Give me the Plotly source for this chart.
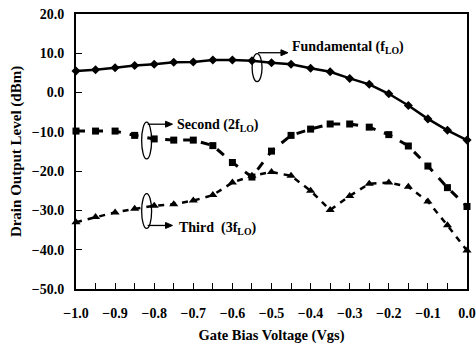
import plotly.graph_objects as go

vgs = [-1.0, -0.95, -0.9, -0.85, -0.8, -0.75, -0.7, -0.65, -0.6, -0.55, -0.5,
       -0.45, -0.4, -0.35, -0.3, -0.25, -0.2, -0.15, -0.1, -0.05, 0.0]
fundamental = [5.5, 5.8, 6.3, 6.9, 7.2, 7.7, 7.8, 8.3, 8.3, 8.1, 7.6,
               7.2, 6.2, 5.3, 3.6, 2.1, -0.3, -3.3, -6.7, -9.6, -12.1]
second = [-9.8, -9.8, -9.8, -10.9, -11.8, -12.1, -12.1, -13.5, -17.8, -21.5, -14.9,
          -10.9, -9.3, -8.0, -8.0, -8.8, -10.7, -13.6, -18.7, -24.2, -29.0]
third = [-33.0, -31.7, -30.5, -29.6, -28.8, -28.4, -27.5, -26.1, -22.9, -21.2, -20.2,
         -21.2, -25.0, -29.9, -26.3, -23.2, -22.9, -24.0, -27.7, -33.8, -40.2]

FONT = "Liberation Serif"

fig = go.Figure()
fig.add_trace(go.Scatter(x=vgs, y=fundamental, mode="lines+markers", name="Fundamental",
                         line=dict(color="black", width=2.5),
                         marker=dict(symbol="diamond", size=7, color="black"), cliponaxis=False))
fig.add_trace(go.Scatter(x=vgs, y=second, mode="lines+markers", name="Second",
                         line=dict(color="black", width=3, dash="dash"),
                         marker=dict(symbol="square", size=7, color="black"), cliponaxis=False))
fig.add_trace(go.Scatter(x=vgs, y=third, mode="lines+markers", name="Third",
                         line=dict(color="black", width=2.5, dash="6px,6px"),
                         marker=dict(symbol="triangle-up", size=8, color="black"), cliponaxis=False))

# pixel -> data helpers for annotation shapes
def px2x(px):
    return -1.0 + (px - 76) / 393.0

def py2y(py):
    return 20.0 - (py - 12) * 70.0 / 277.0

ellipses = [(253, 52, 263, 80), (142, 121, 152, 158), (142, 193, 152, 228)]
for x0, y0, x1, y1 in ellipses:
    fig.add_shape(type="circle", xref="x", yref="y",
                  x0=px2x(x0), x1=px2x(x1), y0=py2y(y0), y1=py2y(y1),
                  line=dict(color="black", width=1.3))

arrows = [(259, 289, 51), (148, 173, 123), (148, 173, 225)]
for xs, xe, yy in arrows:
    fig.add_shape(type="line", xref="x", yref="y",
                  x0=px2x(xs), x1=px2x(xe - 4), y0=py2y(yy), y1=py2y(yy),
                  line=dict(color="black", width=1.3))
    path = "M {} {} L {} {} L {} {} Z".format(
        px2x(xe), py2y(yy), px2x(xe - 7), py2y(yy - 3), px2x(xe - 7), py2y(yy + 3))
    fig.add_shape(type="path", xref="x", yref="y", path=path,
                  fillcolor="black", line=dict(color="black", width=1))

labels = [("Fundamental (f<sub>LO</sub>)", 291, 46),
          ("Second (2f<sub>LO</sub>)", 176, 124),
          ("Third  (3f<sub>LO</sub>)", 178, 228)]
for txt, lx, ly in labels:
    fig.add_annotation(x=px2x(lx), y=py2y(ly), xref="x", yref="y", text=txt,
                       showarrow=False, xanchor="left", yanchor="middle",
                       font=dict(family=FONT, size=14, color="black", weight="bold"))

fig.update_layout(
    width=476, height=345, autosize=False,
    margin=dict(l=76, r=7, t=12, b=56),
    paper_bgcolor="white", plot_bgcolor="white",
    showlegend=False,
    font=dict(family=FONT, color="black", weight="bold"),
)
fig.update_xaxes(range=[-1.0, 0.0], dtick=0.1, tick0=-1.0, tickformat=".1f", automargin=False,
                 ticks="inside", ticklen=6, tickcolor="black", showgrid=False, zeroline=False,
                 showline=True, linecolor="black", linewidth=2, mirror=True,
                 ticklabeloverflow="allow", ticklabelstandoff=10,
                 tickfont=dict(family=FONT, size=14, color="black", weight="bold"),
                 minor=dict(dtick=0.05, ticks="inside", ticklen=6, tickcolor="black"),
                 title=dict(text="Gate Bias Voltage (Vgs)", standoff=10,
                            font=dict(family=FONT, size=14.5, color="black", weight="bold")))
fig.update_yaxes(range=[-50, 20], dtick=10, tickformat=".1f", automargin=True,
                 ticks="inside", ticklen=6, tickcolor="black", showgrid=False, zeroline=False,
                 showline=True, linecolor="black", linewidth=2, mirror=True,
                 ticklabeloverflow="allow", ticklabelstandoff=7,
                 tickfont=dict(family=FONT, size=14, color="black", weight="bold"),
                 title=dict(text="Drain Output Level (dBm)", standoff=6,
                            font=dict(family=FONT, size=15, color="black", weight="bold")))

fig.write_html(
    "out.html",
    config={"responsive": False, "displayModeBar": False},
    post_script="document.documentElement.style.overflow='hidden';"
                "document.body.style.margin='0';document.body.style.overflow='hidden';",
)
